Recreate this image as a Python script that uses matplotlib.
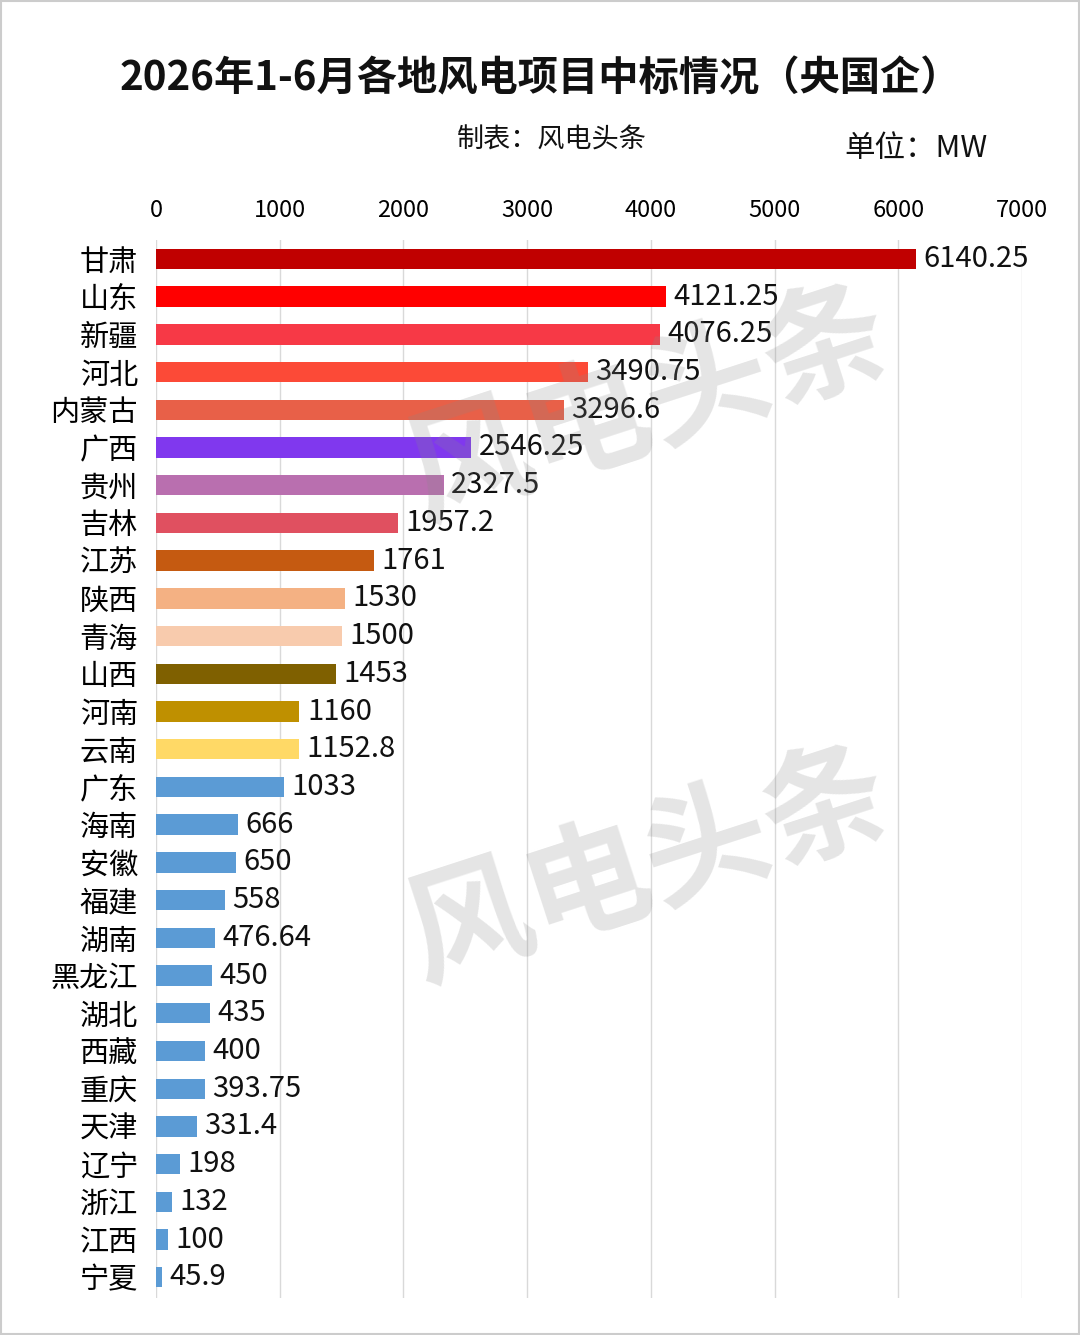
import matplotlib
matplotlib.use("Agg")
import matplotlib.pyplot as plt
from matplotlib.patches import Rectangle

plt.rcParams['font.family'] = ['Noto Sans CJK SC', 'DejaVu Sans']

provinces = ["甘肃", "山东", "新疆", "河北", "内蒙古", "广西", "贵州", "吉林", "江苏", "陕西",
             "青海", "山西", "河南", "云南", "广东", "海南", "安徽", "福建", "湖南", "黑龙江",
             "湖北", "西藏", "重庆", "天津", "辽宁", "浙江", "江西", "宁夏"]
values = [6140.25, 4121.25, 4076.25, 3490.75, 3296.6, 2546.25, 2327.5, 1957.2, 1761, 1530,
          1500, 1453, 1160, 1152.8, 1033, 666, 650, 558, 476.64, 450,
          435, 400, 393.75, 331.4, 198, 132, 100, 45.9]
value_labels = ["6140.25", "4121.25", "4076.25", "3490.75", "3296.6", "2546.25", "2327.5", "1957.2",
                "1761", "1530", "1500", "1453", "1160", "1152.8", "1033", "666", "650", "558",
                "476.64", "450", "435", "400", "393.75", "331.4", "198", "132", "100", "45.9"]
blue = "#5B9BD5"
colors = ["#C00000", "#FF0000", "#F73946", "#FC4A37", "#E86048", "#8038EE", "#B96FAF", "#E05060",
          "#C55A11", "#F4B183", "#F8CBAD", "#7F6000", "#BF9000", "#FFD966"] + [blue] * 14
xticks = [0, 1000, 2000, 3000, 4000, 5000, 6000, 7000]

fig = plt.figure(figsize=(10.8, 13.35), dpi=100)
fig.patch.set_facecolor("white")
fig.add_artist(Rectangle((0.001, 0.001), 0.998, 0.998, transform=fig.transFigure,
                         fill=False, edgecolor="#CCCCCC", linewidth=1.5))

ax = fig.add_axes([0.1444, 0.0277, 0.8019, 0.7925])
ypos = list(range(len(provinces)))
ax.barh(ypos, values, height=0.54, color=colors, zorder=3)
ax.set_xlim(0, 7000)
ax.set_ylim(len(provinces) - 0.45, -0.5)
ax.set_xticks(xticks)
ax.set_xticklabels([str(t) for t in xticks])
ax.xaxis.tick_top()
ax.tick_params(axis='x', length=0, labelsize=17, pad=13)
ax.set_yticks(ypos)
ax.set_yticklabels(provinces)
ax.tick_params(axis='y', length=0, labelsize=21, pad=13)
for s in ax.spines.values():
    s.set_visible(False)
ax.grid(axis='x', color="#D9D9D9", linewidth=1, zorder=0)
ax.set_axisbelow(True)

for y, v, lab in zip(ypos, values, value_labels):
    ax.text(v + 60, y, lab, va='center', ha='left', fontsize=21, color="#111111", zorder=4)

fig.text(0.5, 0.941, "2026年1-6月各地风电项目中标情况（央国企）", ha='center', va='center',
         fontsize=29, fontweight='bold', color="#111111")
fig.text(0.511, 0.895, "制表：风电头条", ha='center', va='center', fontsize=19.5, color="#111111")
fig.text(0.848, 0.889, "单位：MW", ha='center', va='center', fontsize=22, color="#111111")

# watermark
for cy in (0.695, 0.35):
    fig.text(0.60, cy, "风电头条", ha='center', va='center', fontsize=90, fontweight='bold',
             color="#888888", alpha=0.22, rotation=18, zorder=10)

fig.savefig("out.png", dpi=100, facecolor="white")
